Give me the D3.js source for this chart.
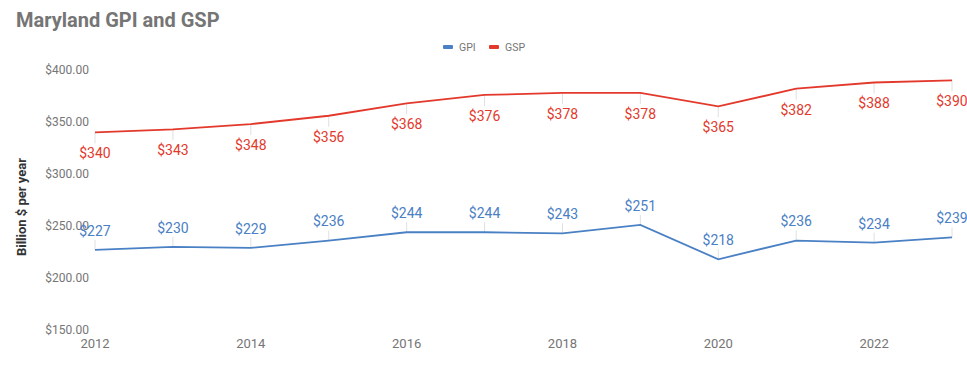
<!DOCTYPE html>
<html><head><meta charset="utf-8">
<script src="https://cdn.jsdelivr.net/npm/d3@7"></script>
<style>body{margin:0;background:#fff;} svg{display:block;font-family:Roboto, "Noto Sans", sans-serif;}</style>
</head><body>
<svg id="c" width="967" height="365"></svg>
<script>
const years = [2012,2013,2014,2015,2016,2017,2018,2019,2020,2021,2022,2023];
const gpi = [227,230,229,236,244,244,243,251,218,236,234,239];
const gsp = [340,343,348,356,368,376,378,378,365,382,388,390];
const yTicks = [150,200,250,300,350,400];
const xTicks = [2012,2014,2016,2018,2020,2022];
const blue = "#4a80c4", red = "#e3392c";

const svg = d3.select("#c");
const x = d3.scaleLinear().domain([2012,2023]).range([95,952]);
const y = d3.scaleLinear().domain([150,400]).range([330,70]);

svg.append("text").attr("x",16).attr("y",27).attr("font-size",20).attr("font-weight","bold")
  .attr("fill","#757575").text("Maryland GPI and GSP");

svg.selectAll(".yt").data(yTicks).enter().append("text")
  .attr("x",89).attr("y",d=>y(d)).attr("dy","0.35em").attr("text-anchor","end")
  .attr("font-size",12).attr("fill","#757575").text(d=>"$"+d3.format(".2f")(d));
svg.selectAll(".xt").data(xTicks).enter().append("text")
  .attr("x",d=>x(d)).attr("y",343).attr("dy","0.35em").attr("text-anchor","middle")
  .attr("font-size",13).attr("fill","#757575").text(d=>d);

svg.append("text").attr("transform","translate(26,207) rotate(-90)").attr("text-anchor","middle")
  .attr("font-size",13).attr("font-weight","bold").attr("fill","#333").text("Billion $ per year");

const leg = [{n:"GPI",c:blue,x:443},{n:"GSP",c:red,x:489}];
leg.forEach(l=>{
  svg.append("rect").attr("x",l.x).attr("y",45).attr("width",10).attr("height",4).attr("rx",1).attr("fill",l.c);
  svg.append("text").attr("x",l.x+16).attr("y",47).attr("dy","0.35em").attr("font-size",10.5).attr("fill","#757575").text(l.n);
});

const line = d3.line().x((d,i)=>x(years[i])).y(d=>y(d));
function series(vals,color,below){
  const g = svg.append("g");
  g.selectAll("line").data(vals).enter().append("line")
    .attr("x1",(d,i)=>x(years[i])).attr("x2",(d,i)=>x(years[i]))
    .attr("y1",d=>y(d)).attr("y2",d=>y(d)+(below?11:-10))
    .attr("stroke","#e0e0e0").attr("stroke-width",1);
  g.append("path").datum(vals).attr("d",line).attr("fill","none").attr("stroke",color).attr("stroke-width",1.8);
  g.selectAll("text").data(vals).enter().append("text")
    .attr("x",(d,i)=>x(years[i])).attr("y",d=>y(d)+(below?21:-19)).attr("dy","0.35em")
    .attr("text-anchor","middle").attr("font-size",14).attr("fill",color).text(d=>"$"+d);
}
series(gpi,blue,false);
series(gsp,red,true);
</script>
</body></html>
